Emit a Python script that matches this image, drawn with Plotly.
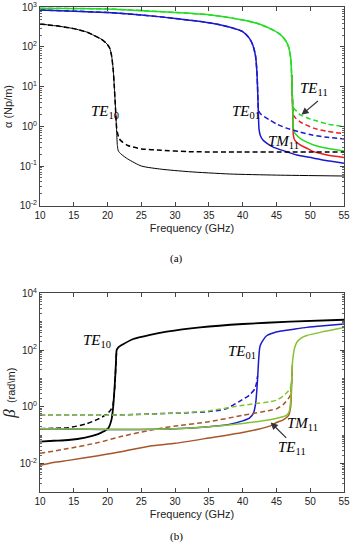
import plotly.graph_objects as go

# ---------------- (a) attenuation alpha (Np/m) ----------------
f_te10_a = [10, 13, 15, 17, 18, 19, 19.8, 20.3, 20.6, 20.85, 21.0, 21.15, 21.25, 21.35, 21.45, 21.6, 22, 23, 25, 28, 32, 38, 45, 55]
a_te10_s = [380, 330, 290, 235, 195, 160, 125, 95, 60, 25, 10, 3.5, 1.6, 0.7, 0.33, 0.24, 0.2, 0.15, 0.1, 0.083, 0.072, 0.063, 0.059, 0.056]
f_te10_ad = [10, 13, 15, 17, 18, 19, 19.8, 20.3, 20.6, 20.85, 21.0, 21.15, 21.25, 21.35, 21.5, 21.7, 22, 23, 25, 28, 32, 40, 55]
a_te10_d = [380, 330, 290, 235, 195, 160, 125, 95, 60, 25, 10, 3.5, 1.6, 0.9, 0.65, 0.5, 0.43, 0.33, 0.27, 0.25, 0.23, 0.225, 0.225]

f_te01_a = [10, 15, 20, 25, 30, 35, 38, 40, 41, 41.5, 41.9, 42.1, 42.2, 42.3, 42.35, 42.42, 42.6, 43, 43.6, 44.5, 46.5, 48, 50.4, 52.5, 55]
a_te01_s = [850, 800, 740, 640, 525, 410, 320, 245, 165, 112, 60, 25, 10, 3, 1.6, 0.85, 0.6, 0.45, 0.37, 0.3, 0.23, 0.19, 0.16, 0.135, 0.118]
f_te01_ad = [10, 15, 20, 25, 30, 35, 38, 40, 41, 41.5, 41.9, 42.1, 42.2, 42.3, 42.4, 42.8, 44, 45, 46.5, 48.5, 50.4, 52.5, 55]
a_te01_d = [850, 800, 740, 640, 525, 410, 320, 245, 165, 112, 60, 25, 10, 3, 2.4, 1.95, 1.45, 1.15, 0.9, 0.72, 0.6, 0.53, 0.48]

f_te11_a = [10, 20, 30, 35, 40, 42, 44, 45.5, 46.3, 46.8, 47.1, 47.25, 47.35, 47.42, 47.5, 47.7, 48.5, 49.5, 50.5, 52.5, 55]
a_te11_s = [950, 910, 740, 650, 480, 400, 295, 210, 150, 100, 55, 20, 6, 2.2, 0.9, 0.68, 0.5, 0.4, 0.34, 0.28, 0.24]
f_te11_ad = [10, 20, 30, 35, 40, 42, 44, 45.5, 46.3, 46.8, 47.1, 47.25, 47.35, 47.45, 47.6, 48, 48.5, 49.5, 50.5, 52.5, 55]
a_te11_d = [950, 910, 740, 650, 480, 400, 295, 210, 150, 100, 55, 20, 6, 3.2, 2.8, 2.4, 1.95, 1.65, 1.45, 1.15, 0.98]

f_tm11_a = [47.25, 47.35, 47.45, 47.5, 47.7, 48.5, 49.5, 50.5, 52.5, 55]
a_tm11_s = [20, 6, 1.2, 0.6, 0.45, 0.34, 0.28, 0.23, 0.19, 0.165]
f_tm11_ad = [47.25, 47.35, 47.45, 47.6, 48.5, 50.5, 52.5, 55]
a_tm11_d = [20, 6, 2.5, 1.8, 1.3, 0.9, 0.75, 0.65]

# ---------------- (b) phase constant beta (rad/m) ----------------
f_te10_b = [10, 12, 14.2, 16.7, 18.6, 19.4, 20.1, 20.6, 20.85, 21.0, 21.15, 21.25, 21.35, 21.6, 22.3, 23.8, 26.3, 28.75, 33.7, 40, 47, 55]
b_te10_s = [0.06, 0.064, 0.068, 0.083, 0.11, 0.135, 0.175, 0.37, 1.1, 3.5, 13, 40, 100, 125, 160, 245, 345, 445, 630, 830, 1000, 1170]
f_te10_bd = [10, 12, 14.2, 16.7, 18.6, 19.9, 20.5, 20.8, 21.0, 21.15, 21.25, 21.35]
b_te10_d = [0.17, 0.175, 0.185, 0.245, 0.37, 0.55, 0.8, 1.2, 3, 12, 40, 100]

f_te01_b = [10, 20, 30, 35, 38, 40, 41, 41.6, 41.95, 42.2, 42.35, 42.5, 42.6, 43, 43.55, 44.5, 45.5, 47.5, 49.5, 52, 55]
b_te01_s = [0.17, 0.16, 0.17, 0.2, 0.24, 0.32, 0.4, 0.6, 1.5, 9, 40, 110, 145, 220, 320, 400, 460, 540, 630, 720, 830]
f_te01_bd = [10, 20, 30, 32, 35, 37.5, 39.6, 41, 41.8, 42.05, 42.2]
b_te01_d = [0.51, 0.51, 0.6, 0.62, 0.68, 0.85, 1.6, 2.6, 4.3, 7, 12]

f_te11_b = [10, 15, 20, 25, 30, 35, 40, 44, 45.5, 46.5, 46.9, 47.1, 47.25, 47.35, 47.45, 47.7, 48.0, 48.6, 49.5, 52, 55]
b_te11_s = [0.17, 0.165, 0.16, 0.16, 0.17, 0.2, 0.26, 0.35, 0.42, 0.5, 0.7, 1.6, 8, 30, 55, 120, 185, 260, 325, 450, 630]
f_te11_bd = [10, 20, 26, 30, 35, 39.6, 42, 44, 45, 46, 47, 47.25]
b_te11_d = [0.51, 0.51, 0.55, 0.6, 0.72, 1.1, 1.3, 1.5, 1.7, 2.4, 4.3, 8]

f_tm11_b = [10, 12, 14.2, 18.6, 22, 26.3, 30, 35, 40, 44, 45, 46, 46.8, 47.1, 47.25, 47.35]
b_tm11_s = [0.0087, 0.011, 0.013, 0.019, 0.026, 0.042, 0.052, 0.08, 0.125, 0.21, 0.28, 0.35, 0.5, 1.0, 6, 30]
f_tm11_bd = [10, 14.2, 18.6, 22, 26.3, 30, 35, 40, 44, 45, 46, 47, 47.2, 47.3]
b_tm11_d = [0.023, 0.034, 0.055, 0.09, 0.15, 0.21, 0.3, 0.5, 0.75, 0.85, 1.2, 2.4, 5, 15]

BLACK = "#000000"
BLUE = "#1a1acc"
GREEN_A = "#22dd22"
RED_A = "#ee1c1c"
GREEN_B = "#86c232"
BROWN_B = "#a8552a"
DASH = "5px,3px"

fig = go.Figure()


def add(x, y, color, ax, dash=None, width=1.5):
    fig.add_trace(go.Scatter(
        x=x, y=y, mode="lines", xaxis=ax[0], yaxis=ax[1],
        line=dict(color=color, width=width, dash=dash or "solid", shape="spline", smoothing=0.6),
        showlegend=False, hoverinfo="skip"))


A = ("x", "y")
B = ("x2", "y2")
# panel (a)
add(f_tm11_a, a_tm11_s, RED_A, A)
add(f_tm11_ad, a_tm11_d, RED_A, A, DASH)
add(f_te11_ad, a_te11_d, GREEN_A, A, DASH)
add(f_te11_a, a_te11_s, GREEN_A, A)
add(f_te01_ad, a_te01_d, BLUE, A, DASH)
add(f_te01_a, a_te01_s, BLUE, A)
add(f_te10_a, a_te10_s, BLACK, A, width=1.0)
add(f_te10_ad, a_te10_d, BLACK, A, DASH)
# panel (b)
add(f_te10_b, b_te10_s, BLACK, B, width=1.8)
add(f_te10_bd, b_te10_d, BLACK, B, DASH)
add(f_te01_bd, b_te01_d, BLUE, B, DASH)
add(f_te01_b, b_te01_s, BLUE, B)
add(f_tm11_bd, b_tm11_d, BROWN_B, B, DASH)
add(f_tm11_b, b_tm11_s, BROWN_B, B)
add(f_te11_bd, b_te11_d, GREEN_B, B, DASH)
add(f_te11_b, b_te11_s, GREEN_B, B)

W, H = 353, 550
xdom = [40 / W, 344 / W]
ydom_a = [1 - 205.7 / H, 1 - 7.3 / H]
ydom_b = [1 - 492 / H, 1 - 293.3 / H]

tickfont = dict(family="Liberation Sans, Arial, sans-serif", size=10, color="#222")
titlefont = dict(family="Liberation Sans, Arial, sans-serif", size=11, color="#222")
xticks = [10, 15, 20, 25, 30, 35, 40, 45, 50, 55]


def minor_log(lo, hi):
    return [m * 10 ** k for k in range(lo, hi) for m in range(2, 10)]


common_x = dict(range=[10, 55], tickvals=xticks, ticks="inside", ticklen=4, showline=True,
                linecolor="#444", linewidth=1, mirror="allticks", showgrid=False, zeroline=False,
                tickfont=tickfont, domain=xdom, automargin=False)
fig.update_layout(
    width=W, height=H, margin=dict(l=0, r=0, t=0, b=0, autoexpand=False),
    paper_bgcolor="white", plot_bgcolor="white",
    xaxis=dict(common_x, anchor="y",
               title=dict(text="Frequency (GHz)", font=titlefont, standoff=4)),
    xaxis2=dict(common_x, anchor="y2",
                title=dict(text="Frequency (GHz)", font=titlefont, standoff=4)),
    yaxis=dict(type="log", range=[-2, 3], domain=ydom_a, anchor="x", automargin=False,
               tickvals=[0.01, 0.1, 1, 10, 100, 1000],
               ticktext=["10<sup>-2</sup>", "10<sup>-1</sup>", "10<sup>0</sup>", "10<sup>1</sup>",
                         "10<sup>2</sup>", "10<sup>3</sup>"],
               ticks="inside", ticklen=4, showline=True, linecolor="#444", linewidth=1,
               mirror="allticks", showgrid=False, zeroline=False, tickfont=tickfont,
               minor=dict(tickvals=minor_log(-2, 3), ticks="inside", ticklen=2, tickcolor="#666", showgrid=False),
               title=dict(text="α (Np/m)", font=titlefont, standoff=4)),
    yaxis2=dict(type="log", range=[-3, 4], domain=ydom_b, anchor="x2", automargin=False,
                tickvals=[0.01, 1, 100, 10000],
                ticktext=["10<sup>-2</sup>", "10<sup>0</sup>", "10<sup>2</sup>", "10<sup>4</sup>"],
                ticks="inside", ticklen=4, showline=True, linecolor="#444", linewidth=1,
                mirror="allticks", showgrid=False, zeroline=False, tickfont=tickfont,
                minor=dict(tickvals=minor_log(-3, 4) + [0.1, 10, 1000], ticks="inside", ticklen=2,
                           tickcolor="#666", showgrid=False),
                title=dict(text="<span style='font-family:Liberation Serif;font-size:17px'><i>β</i></span>  (rad\\m)",
                           font=titlefont, standoff=2)),
)

lab = dict(family="Liberation Serif, Times New Roman, serif", size=15, color="black")


def label(text, x, y, xr, yr):
    fig.add_annotation(text=text, x=x, y=y, xref=xr, yref=yr, showarrow=False,
                       font=lab, xanchor="center", yanchor="middle")


def arrow(x, y, ax, ay, xr, yr):
    fig.add_annotation(text="", x=x, y=y, xref=xr, yref=yr, ax=ax, ay=ay,
                       showarrow=True, arrowhead=2, arrowsize=1.2, arrowwidth=1.2, arrowcolor="#333")


label("<i>TE</i><sub>10</sub>", 19.6, 0.36, "x", "y")
label("<i>TE</i><sub>01</sub>", 40.5, 0.36, "x", "y")
label("<i>TM</i><sub>11</sub>", 46.0, -0.39, "x", "y")
label("<i>TE</i><sub>11</sub>", 50.6, 0.94, "x", "y")
arrow(48.7, 0.29, 18, -15, "x", "y")

label("<i>TE</i><sub>10</sub>", 18.4, 2.32, "x2", "y2")
label("<i>TE</i><sub>01</sub>", 39.9, 1.93, "x2", "y2")
label("<i>TM</i><sub>11</sub>", 48.8, -0.61, "x2", "y2")
label("<i>TE</i><sub>11</sub>", 47.3, -1.46, "x2", "y2")
arrow(44.15, -0.55, 17, 17, "x2", "y2")

cap = dict(family="Liberation Serif, Times New Roman, serif", size=11, color="black")
fig.add_annotation(text="(a)", x=176 / W, y=1 - 258 / H, xref="paper", yref="paper",
                   showarrow=False, font=cap, xanchor="center", yanchor="middle")
fig.add_annotation(text="(b)", x=176 / W, y=1 - 536 / H, xref="paper", yref="paper",
                   showarrow=False, font=cap, xanchor="center", yanchor="middle")

fig.write_html("out.html", config={"displayModeBar": False},
               post_script="document.body.style.margin='0';document.body.style.overflow='hidden';")
